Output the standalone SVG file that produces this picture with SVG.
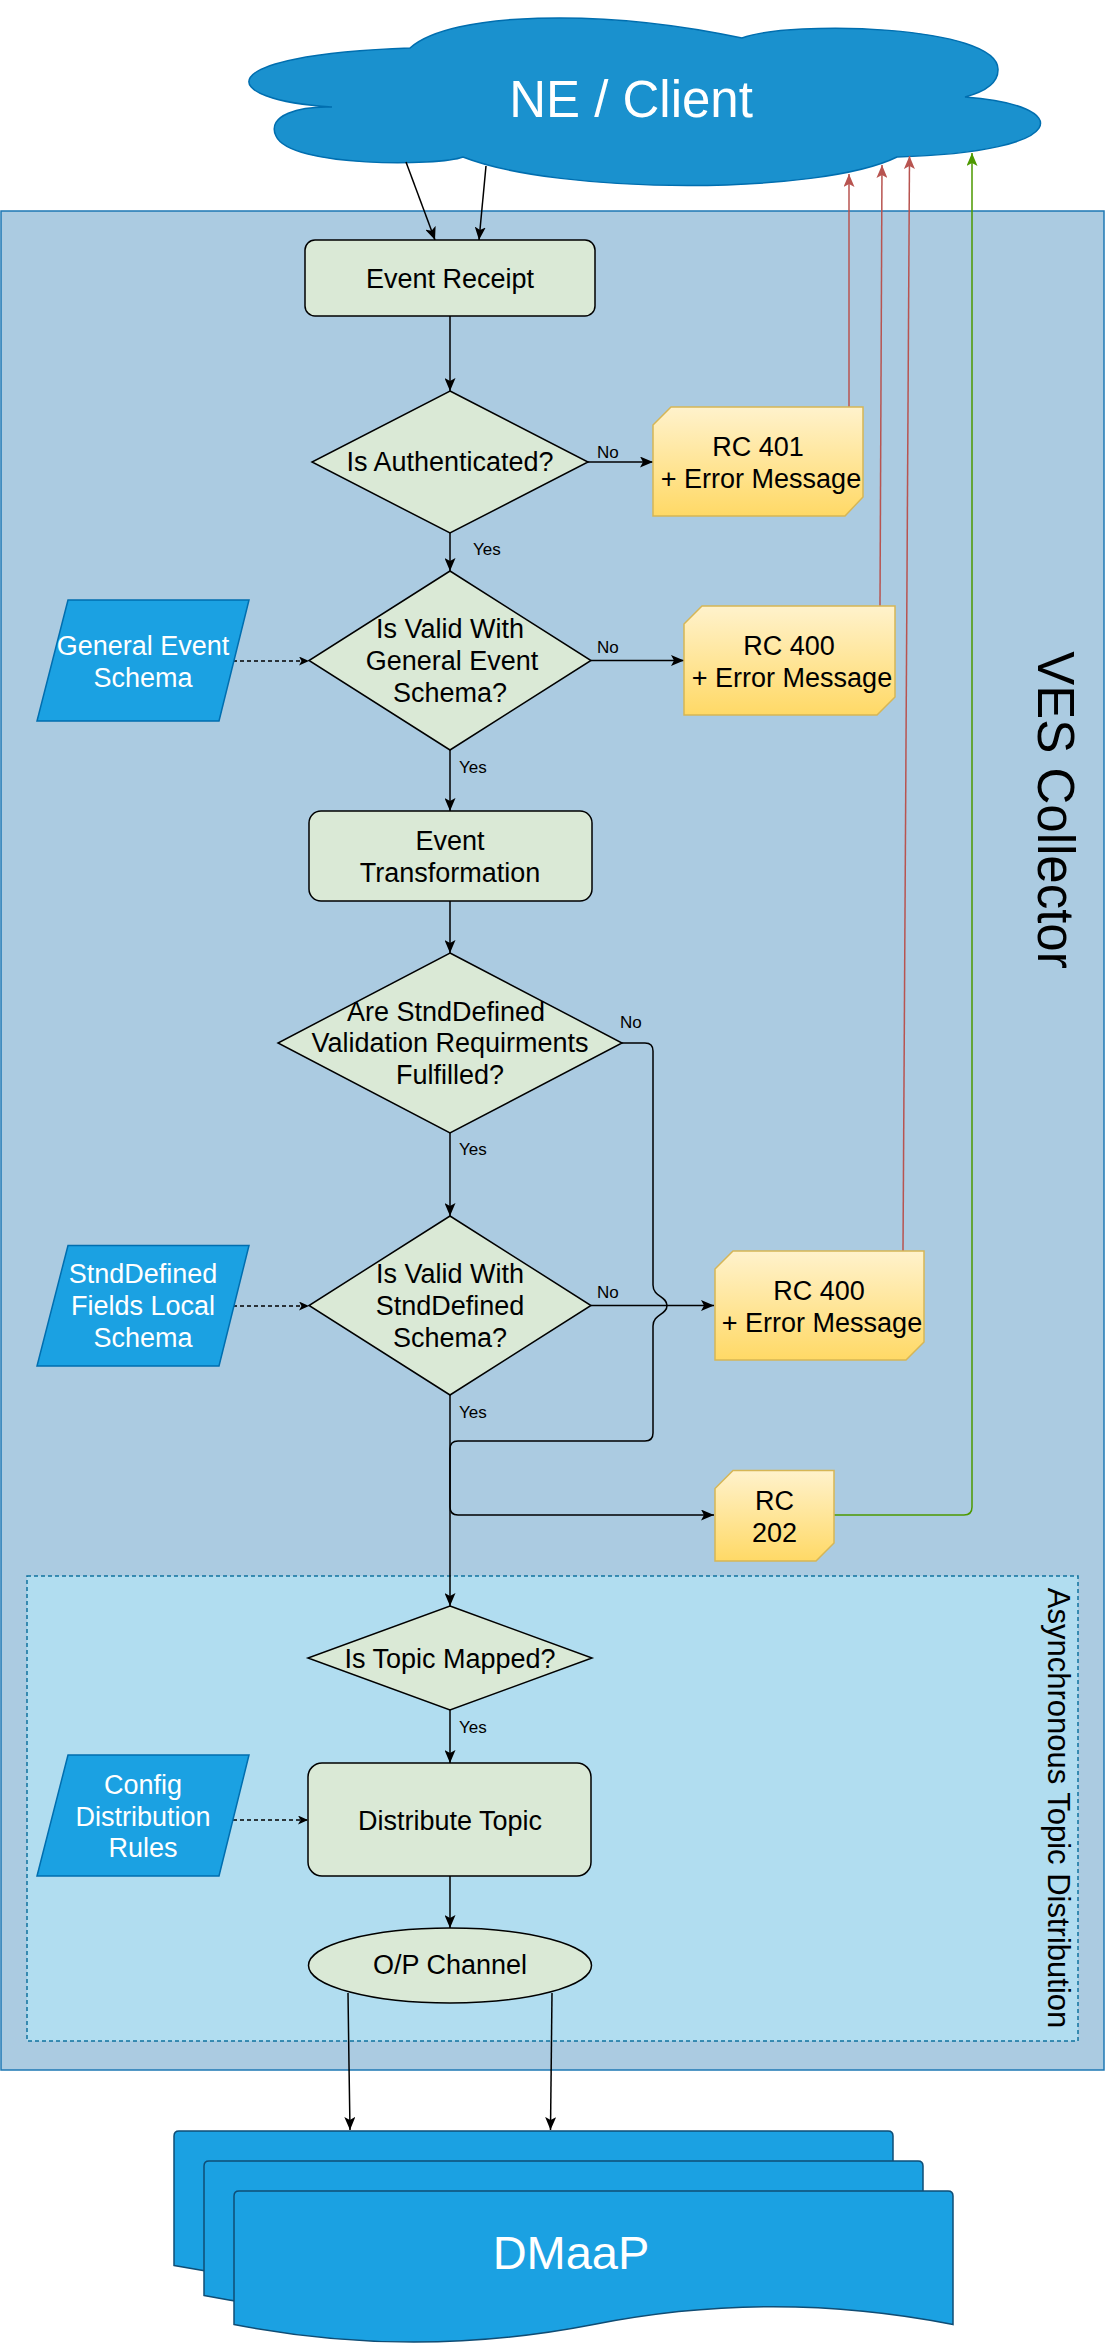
<svg xmlns="http://www.w3.org/2000/svg" width="1106" height="2343" viewBox="0 0 1106 2343">
<style>
.t{font-family:"Liberation Sans",Arial,sans-serif;font-size:27px;fill:#000;text-anchor:middle}
.w{fill:#fff}
.lbl{font-family:"Liberation Sans",Arial,sans-serif;font-size:17px;fill:#000}
.node{fill:#dae9d6;stroke:#000;stroke-width:1.5}
.rc{fill:url(#rcg);stroke:#d6b656;stroke-width:1.5}
.para{fill:#1ba1e2;stroke:#006eaf;stroke-width:1.5}
.doc{fill:#1ba1e2;stroke:#0f4d75;stroke-width:1.5}
.c{fill:none;stroke:#000;stroke-width:1.5}
.d{fill:none;stroke:#000;stroke-width:1.5;stroke-dasharray:4 3}
.r{fill:none;stroke:#b85450;stroke-width:1.5}
.g{fill:none;stroke:#4d9900;stroke-width:1.5}
</style>
<defs>
<linearGradient id="rcg" x1="0" y1="0" x2="0" y2="1"><stop offset="0" stop-color="#fff2cc"/><stop offset="1" stop-color="#ffd966"/></linearGradient>
<marker id="ab" markerUnits="userSpaceOnUse" markerWidth="14" markerHeight="11" viewBox="0 0 14 11" refX="13" refY="5.5" orient="auto"><path d="M0,0 L13,5.5 L0,11 L3,5.5 Z" fill="#000"/></marker>
<marker id="as" markerUnits="userSpaceOnUse" markerWidth="11" markerHeight="9" viewBox="0 0 11 9" refX="10" refY="4.5" orient="auto"><path d="M0,0 L10,4.5 L0,9 L2.5,4.5 Z" fill="#000"/></marker>
<marker id="ar" markerUnits="userSpaceOnUse" markerWidth="14" markerHeight="11" viewBox="0 0 14 11" refX="13" refY="5.5" orient="auto"><path d="M0,0 L13,5.5 L0,11 L3,5.5 Z" fill="#b85450"/></marker>
<marker id="ag" markerUnits="userSpaceOnUse" markerWidth="14" markerHeight="11" viewBox="0 0 14 11" refX="13" refY="5.5" orient="auto"><path d="M0,0 L13,5.5 L0,11 L3,5.5 Z" fill="#4d9900"/></marker>
</defs>

<g id="ves-collector">
<rect x="1" y="211" width="1103" height="1859" fill="#abcbe1" stroke="#1e78b4" stroke-width="1.5"/>
<text class="t" style="font-size:51px" transform="translate(1038,810) rotate(90)">VES Collector</text>
</g>
<g id="async-distribution">
<rect x="27" y="1576" width="1051" height="465" fill="#b1ddf0" stroke="#10739e" stroke-width="1.5" stroke-dasharray="4 3"/>
<text class="t" style="font-size:31px" transform="translate(1048,1808) rotate(90)">Asynchronous Topic Distribution</text>
</g>

<g id="ne-client">
<path d="M410,48 C450,12 600,8 742,38 C790,20 1000,25 998,70 C998,85 980,93 965,97 C1075,105 1075,152 897,157 C820,195 560,195 463,157 C440,166 290,168 276,136 C266,115 300,106 332,107 C215,100 205,55 410,48 Z" fill="#1a91ce" stroke="#006eaf" stroke-width="1.5"/>
<text class="t w" style="font-size:51px" x="631" y="117">NE / Client</text>
</g>

<g id="connectors">
<line class="c" x1="406" y1="162" x2="435" y2="240" marker-end="url(#ab)"/>
<line class="c" x1="486" y1="166" x2="479" y2="240" marker-end="url(#ab)"/>
<line class="c" x1="450" y1="316" x2="450" y2="391" marker-end="url(#ab)"/>
<line class="c" x1="588" y1="462" x2="653" y2="462" marker-end="url(#ab)"/>
<line class="c" x1="450" y1="533" x2="450" y2="571" marker-end="url(#ab)"/>
<line class="d" x1="233" y1="661" x2="309" y2="661" marker-end="url(#as)"/>
<line class="c" x1="591" y1="660.5" x2="684" y2="660.5" marker-end="url(#ab)"/>
<line class="c" x1="450" y1="750" x2="450" y2="811" marker-end="url(#ab)"/>
<line class="c" x1="450" y1="901" x2="450" y2="953" marker-end="url(#ab)"/>
<line class="c" x1="450" y1="1133" x2="450" y2="1216" marker-end="url(#ab)"/>
<path class="c" d="M622,1043 L645,1043 Q653,1043 653,1051 L653,1285 C653,1297 667,1296 667,1305.5 C667,1315 653,1314 653,1326 L653,1433 Q653,1441 645,1441 L458,1441 Q450,1441 450,1449 L450,1507 Q450,1515 458,1515 L714,1515" marker-end="url(#ab)"/>
<line class="d" x1="233" y1="1306" x2="309" y2="1306" marker-end="url(#as)"/>
<line class="c" x1="591" y1="1305.5" x2="714" y2="1305.5" marker-end="url(#ab)"/>
<line class="c" x1="450" y1="1395" x2="450" y2="1606" marker-end="url(#ab)"/>
<line class="c" x1="450" y1="1710" x2="450" y2="1763" marker-end="url(#ab)"/>
<line class="d" x1="233" y1="1820" x2="308" y2="1820" marker-end="url(#as)"/>
<line class="c" x1="450" y1="1876" x2="450" y2="1928" marker-end="url(#ab)"/>
<path class="c" d="M348,1993 L349,2065 L350,2130" marker-end="url(#ab)"/>
<line class="c" x1="552" y1="1993" x2="550.5" y2="2130" marker-end="url(#ab)"/>
<line class="r" x1="849" y1="407" x2="849" y2="174" marker-end="url(#ar)"/>
<line class="r" x1="880" y1="606" x2="882" y2="165" marker-end="url(#ar)"/>
<line class="r" x1="903" y1="1251" x2="909.5" y2="156" marker-end="url(#ar)"/>
<path class="g" d="M834,1515 L964,1515 Q972,1515 972,1507 L972,153" marker-end="url(#ag)"/>
<text class="lbl" x="597" y="458">No</text>
<text class="lbl" x="473" y="555">Yes</text>
<text class="lbl" x="597" y="653">No</text>
<text class="lbl" x="459" y="773">Yes</text>
<text class="lbl" x="620" y="1028">No</text>
<text class="lbl" x="459" y="1155">Yes</text>
<text class="lbl" x="597" y="1298">No</text>
<text class="lbl" x="459" y="1418">Yes</text>
<text class="lbl" x="459" y="1733">Yes</text>
</g>

<g id="event-receipt">
<rect class="node" x="305" y="240" width="290" height="76" rx="10"/>
<text class="t" x="450" y="288">Event Receipt</text>
</g>
<g id="is-authenticated">
<polygon class="node" points="450,391 588,462 450,533 312,462"/>
<text class="t" x="450" y="471">Is Authenticated?</text>
</g>
<g id="rc401">
<polygon class="rc" points="671,407 863,407 863,497 845,516 653,516 653,425"/>
<text class="t" x="758" y="456">RC 401</text>
<text class="t" x="761" y="488">+ Error Message</text>
</g>
<g id="general-event-schema">
<polygon class="para" points="68,600 249,600 219,721 37,721"/>
<text class="t w" x="143" y="655">General Event</text>
<text class="t w" x="143" y="687">Schema</text>
</g>
<g id="valid-general">
<polygon class="node" points="450,571 591,660.5 450,750 309,660.5"/>
<text class="t" x="450" y="638">Is Valid With</text>
<text class="t" x="452" y="670">General Event</text>
<text class="t" x="450" y="702">Schema?</text>
</g>
<g id="rc400-a">
<polygon class="rc" points="702,606 895,606 895,697 877,715 684,715 684,624"/>
<text class="t" x="789" y="655">RC 400</text>
<text class="t" x="792" y="687">+ Error Message</text>
</g>
<g id="event-transformation">
<rect class="node" x="309" y="811" width="283" height="90" rx="12"/>
<text class="t" x="450" y="850">Event</text>
<text class="t" x="450" y="882">Transformation</text>
</g>
<g id="stnd-requirements">
<polygon class="node" points="450,953 622,1043 450,1133 278,1043"/>
<text class="t" x="446" y="1021">Are StndDefined</text>
<text class="t" x="450" y="1052">Validation Requirments</text>
<text class="t" x="450" y="1084">Fulfilled?</text>
</g>
<g id="stnd-schema">
<polygon class="para" points="68,1245.5 249,1245.5 219,1366 37,1366"/>
<text class="t w" x="143" y="1283">StndDefined</text>
<text class="t w" x="143" y="1315">Fields Local</text>
<text class="t w" x="143" y="1347">Schema</text>
</g>
<g id="valid-stnd">
<polygon class="node" points="450,1216 591,1305.5 450,1395 309,1305.5"/>
<text class="t" x="450" y="1283">Is Valid With</text>
<text class="t" x="450" y="1315">StndDefined</text>
<text class="t" x="450" y="1347">Schema?</text>
</g>
<g id="rc400-b">
<polygon class="rc" points="733,1251 924,1251 924,1342 906,1360 715,1360 715,1269"/>
<text class="t" x="819" y="1300">RC 400</text>
<text class="t" x="822" y="1332">+ Error Message</text>
</g>
<g id="rc202">
<polygon class="rc" points="733,1470.5 834,1470.5 834,1543 816,1561 715,1561 715,1488.5"/>
<text class="t" x="774.5" y="1510">RC</text>
<text class="t" x="774.5" y="1542">202</text>
</g>
<g id="topic-mapped">
<polygon class="node" points="450,1606 592,1658 450,1710 308,1658"/>
<text class="t" x="450" y="1668">Is Topic Mapped?</text>
</g>
<g id="config-rules">
<polygon class="para" points="68,1755 249,1755 219,1876 37,1876"/>
<text class="t w" x="143" y="1794">Config</text>
<text class="t w" x="143" y="1825.5">Distribution</text>
<text class="t w" x="143" y="1857">Rules</text>
</g>
<g id="distribute-topic">
<rect class="node" x="308" y="1763" width="283" height="113" rx="14"/>
<text class="t" x="450" y="1830">Distribute Topic</text>
</g>
<g id="op-channel">
<ellipse class="node" cx="450" cy="1965.5" rx="141.5" ry="37.5"/>
<text class="t" x="450" y="1974">O/P Channel</text>
</g>
<g id="dmaap">
<path class="doc" d="M174,2265.5 L174,2136 Q174,2131 179,2131 L888,2131 Q893,2131 893,2136 L893,2265.5 Q713,2230 533.5,2265.5 Q354,2300.6 174,2265.5 Z"/>
<path class="doc" d="M204,2295.5 L204,2166 Q204,2161 209,2161 L918,2161 Q923,2161 923,2166 L923,2295.5 Q743,2260 563.5,2295.5 Q384,2330.6 204,2295.5 Z"/>
<path class="doc" d="M234,2324.5 L234,2196 Q234,2191 239,2191 L948,2191 Q953,2191 953,2196 L953,2324.5 Q773,2289 593.5,2324.5 Q414,2359.6 234,2324.5 Z"/>
<text class="t w" style="font-size:47px" x="571" y="2269">DMaaP</text>
</g>
</svg>
